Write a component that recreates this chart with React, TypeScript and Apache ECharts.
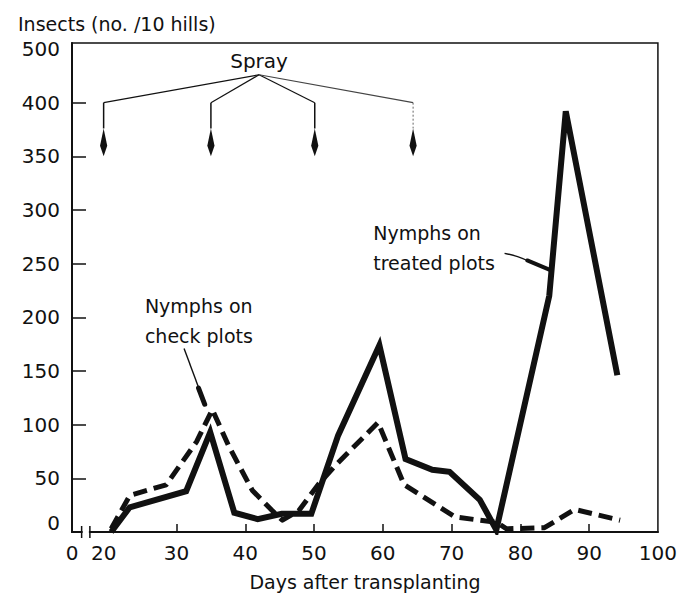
import React, { useEffect, useRef } from "react";
import * as echarts from "echarts";

// Nymphs on treated plots (solid line)
const treatedDays = [20.5, 23.2, 31.4, 34.9, 38.4, 41.8, 45.3, 49.6, 53.5, 59.5, 63.3, 67.2, 69.7, 74.1, 76.5, 84.2, 86.6, 94.1];
const treatedValues = [0, 23, 38, 93, 18, 12, 17, 17, 90, 174, 68, 58, 56, 30, 2, 220, 392, 146];

// Nymphs on check plots (dashed line)
const checkDays = [20.5, 23.2, 28.5, 32.9, 35.2, 37.6, 41, 43.9, 45.4, 47.8, 50.7, 53.1, 59.3, 63.1, 70.5, 76.5, 78, 83.5, 87.9, 94.5];
const checkValues = [3, 34, 44, 84, 114, 80, 39, 20, 11, 20, 45, 62, 102, 44, 14, 9, 3, 4, 21, 11];

// Axis labels and ticks
const xMin = 14.8;
const xMax = 100;
const xLabelValues = [14.8, 19.4, 30, 40, 50, 60, 70, 80, 90, 100];
const xLabelTexts = ["0", "20", "30", "40", "50", "60", "70", "80", "90", "100"];
const xTickValues = [30, 40, 50, 60, 70, 80, 90];
const xBreakDays = [16.2, 17.4];

const yMax = 455.6;
const yLabelValues = [8, 50, 100, 150, 200, 250, 300, 350, 400, 450];
const yLabelTexts = ["0", "50", "100", "150", "200", "250", "300", "350", "400", "500"];
const yTickValues = [50, 100, 150, 200, 250, 300, 350, 400];

// Spray annotation
const sprayDays = [19.4, 35, 50.1, 64.4];
const sprayApex = [42, 426];
const sprayBranchValue = 400;
const sprayArrowStartValue = 376;
const sprayTipValue = 350;

// Text annotations (day, value of text block center-left)
const checkLabelPos = [25.4, 197];
const checkPointer = [[31.1, 171], [33.3, 133]];
const checkPointerHead = [[33.2, 134], [34.1, 119]];
const treatedLabelPos = [58.6, 265];
const treatedPointer = [[77.7, 259.7], [79.6, 256.5], [81.3, 252]];
const treatedPointerHead = [[81.0, 253], [84.2, 244.5]];

const FONT = '"DejaVu Sans", sans-serif';

function labelFor(values: number[], texts: string[], v: number) {
  const i = values.findIndex((x) => Math.abs(x - v) < 1e-6);
  return i >= 0 ? texts[i] : "";
}

export default function App() {
  const ref = useRef<HTMLDivElement>(null);

  useEffect(() => {
    if (!ref.current) return;
    const chart = echarts.init(ref.current, null, { renderer: "svg" });
    const option: any = {
      animation: false,
      backgroundColor: "#fff",
      title: {
        text: "Insects (no. /10 hills)",
        left: 13,
        top: 9,
        textStyle: { fontSize: 19, fontWeight: "normal", color: "#111", fontFamily: FONT },
      },
      grid: {
        left: 72,
        right: 19,
        top: 43,
        bottom: 64,
        show: true,
        borderColor: "#111",
        borderWidth: 1.5,
        backgroundColor: "transparent",
      },
      xAxis: {
        type: "value",
        min: xMin,
        max: xMax,
        name: "Days after transplanting",
        nameLocation: "middle",
        nameGap: 40,
        nameTextStyle: { fontSize: 19, color: "#111", fontFamily: FONT },
        axisLine: { show: true, lineStyle: { color: "#111", width: 2 } },
        splitLine: { show: false },
        axisTick: {
          show: true,
          inside: true,
          length: 8,
          customValues: xTickValues,
          lineStyle: { color: "#111", width: 1.5 },
        },
        axisLabel: {
          customValues: xLabelValues,
          formatter: (v: number) => labelFor(xLabelValues, xLabelTexts, v),
          fontSize: 20,
          color: "#111",
          fontFamily: FONT,
          margin: 11,
        },
      },
      yAxis: {
        type: "value",
        min: 0,
        max: yMax,
        axisLine: { show: true, lineStyle: { color: "#111", width: 2 } },
        splitLine: { show: false },
        axisTick: {
          show: true,
          inside: true,
          length: 14,
          customValues: yTickValues,
          lineStyle: { color: "#111", width: 1.5 },
        },
        axisLabel: {
          customValues: yLabelValues,
          formatter: (v: number) => labelFor(yLabelValues, yLabelTexts, v),
          fontSize: 20,
          color: "#111",
          fontFamily: FONT,
          margin: 12,
        },
      },
      series: [
        {
          name: "Nymphs on check plots",
          type: "line",
          data: checkDays.map((d, i) => [d, checkValues[i]]),
          showSymbol: false,
          lineStyle: { color: "#111", width: 5, type: [14, 7], cap: "butt", join: "round" },
          z: 3,
        },
        {
          name: "Nymphs on treated plots",
          type: "line",
          data: treatedDays.map((d, i) => [d, treatedValues[i]]),
          showSymbol: false,
          lineStyle: { color: "#111", width: 6, join: "miter", cap: "butt" },
          z: 4,
        },
      ],
    };
    chart.setOption(option);

    const px = (d: number, v: number) => chart.convertToPixel({ gridIndex: 0 }, [d, v]) as number[];
    const g: any[] = [];

    // x-axis break
    const b0 = px(xBreakDays[0], 0);
    const b1 = px(xBreakDays[1], 0);
    g.push({ type: "rect", shape: { x: b0[0] + 1, y: b0[1] - 3, width: b1[0] - b0[0] - 2, height: 6 }, style: { fill: "#fff" }, z: 50 });
    [b0, b1].forEach((p) => {
      g.push({ type: "line", shape: { x1: p[0], y1: p[1] - 6, x2: p[0], y2: p[1] + 6 }, style: { stroke: "#111", lineWidth: 1.5 }, z: 51 });
    });

    // Spray annotation
    const apex = px(sprayApex[0], sprayApex[1]);
    g.push({
      type: "text",
      x: apex[0],
      y: apex[1] - 14,
      style: { text: "Spray", fontSize: 20, fontFamily: FONT, fill: "#111", align: "center", verticalAlign: "middle" },
      z: 50,
    });
    sprayDays.forEach((d, i) => {
      const top = px(d, sprayBranchValue);
      const start = px(d, sprayArrowStartValue);
      const tip = px(d, sprayTipValue);
      const last = i === sprayDays.length - 1;
      g.push({
        type: "polyline",
        shape: { points: [apex, top] },
        style: { stroke: last ? "#444" : "#111", lineWidth: 1.2, fill: "none" },
        z: 50,
      });
      g.push({
        type: "polyline",
        shape: { points: [top, start] },
        style: { stroke: last ? "#666" : "#111", lineWidth: last ? 1 : 1.5, lineDash: last ? [2, 2] : null, fill: "none" },
        z: 50,
      });
      const hw = 3.6;
      g.push({
        type: "polygon",
        shape: {
          points: [
            [start[0], start[1]],
            [start[0] + hw, start[1] + (tip[1] - start[1]) * 0.62],
            [tip[0], tip[1]],
            [start[0] - hw, start[1] + (tip[1] - start[1]) * 0.62],
          ],
        },
        style: { fill: "#111" },
        z: 50,
      });
    });

    // Check plots label + pointer
    const cl = px(checkLabelPos[0], checkLabelPos[1]);
    g.push({
      type: "text",
      x: cl[0],
      y: cl[1],
      style: { text: "Nymphs on\ncheck plots", fontSize: 19, lineHeight: 30, fontFamily: FONT, fill: "#111", align: "left", verticalAlign: "middle" },
      z: 50,
    });
    {
      const pts = checkPointer.map((p) => px(p[0], p[1]));
      g.push({ type: "polyline", shape: { points: pts }, style: { stroke: "#111", lineWidth: 1.4, fill: "none" }, z: 52 });
    }
    {
      const a = px(checkPointerHead[0][0], checkPointerHead[0][1]);
      const b = px(checkPointerHead[1][0], checkPointerHead[1][1]);
      g.push({ type: "line", shape: { x1: a[0], y1: a[1], x2: b[0], y2: b[1] }, style: { stroke: "#111", lineWidth: 5, lineCap: "round" }, z: 50 });
    }

    // Treated plots label + pointer
    const tl = px(treatedLabelPos[0], treatedLabelPos[1]);
    g.push({
      type: "text",
      x: tl[0],
      y: tl[1],
      style: { text: "Nymphs on\ntreated plots", fontSize: 19, lineHeight: 30, fontFamily: FONT, fill: "#111", align: "left", verticalAlign: "middle" },
      z: 50,
    });
    g.push({ type: "polyline", shape: { points: treatedPointer.map((p) => px(p[0], p[1])), smooth: 0.4 }, style: { stroke: "#111", lineWidth: 1.3, fill: "none" }, z: 50 });
    {
      const a = px(treatedPointerHead[0][0], treatedPointerHead[0][1]);
      const b = px(treatedPointerHead[1][0], treatedPointerHead[1][1]);
      g.push({ type: "line", shape: { x1: a[0], y1: a[1], x2: b[0], y2: b[1] }, style: { stroke: "#111", lineWidth: 4, lineCap: "round" }, z: 50 });
    }

    chart.setOption({ graphic: g });

    return () => chart.dispose();
  }, []);

  return (
    <div
      ref={ref}
      style={{ position: "fixed", left: 0, top: 0, width: 680, height: 596, background: "#fff" }}
    />
  );
}
